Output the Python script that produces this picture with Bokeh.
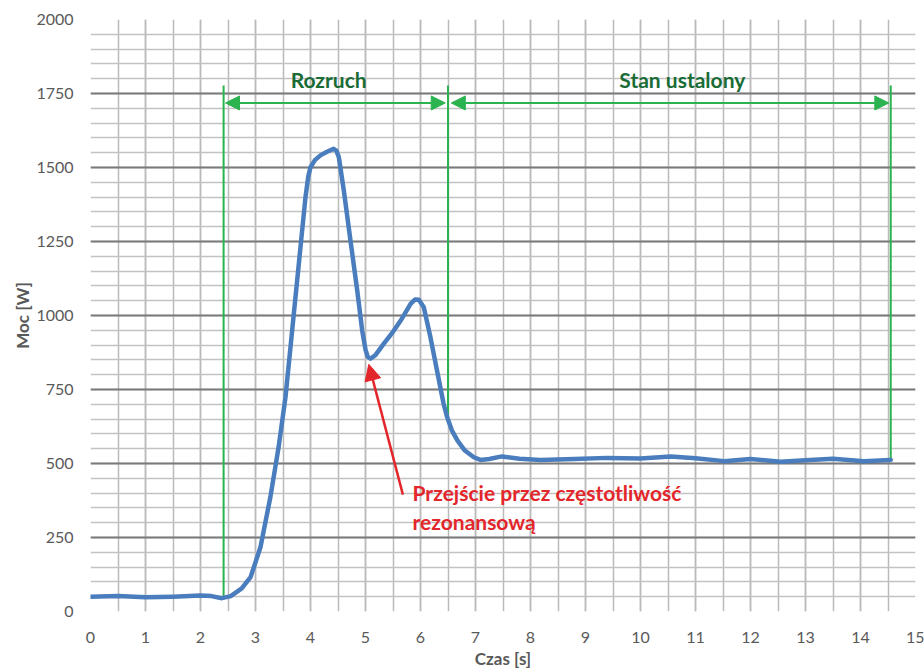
from bokeh.plotting import figure
from bokeh.models import SingleIntervalTicker, Arrow, NormalHead, Label, FixedTicker
from bokeh.embed import file_html
from bokeh.resources import INLINE

# --- data ---
time_s = [0, 0.5, 1, 1.5, 2, 2.2, 2.39, 2.55, 2.75, 2.91, 3.09, 3.27, 3.42, 3.545, 3.636,
          3.727, 3.818, 3.909, 3.96, 4.0, 4.08, 4.18, 4.3, 4.42, 4.47, 4.515, 4.606, 4.727,
          4.85, 4.94, 5.0, 5.04, 5.09, 5.18, 5.33, 5.5, 5.64, 5.82, 5.9, 5.97, 6.06, 6.18,
          6.30, 6.42, 6.485, 6.57, 6.67, 6.8, 6.97, 7.09, 7.25, 7.48, 7.8, 8.18, 8.8, 9.39,
          10.0, 10.55, 11.0, 11.52, 12.0, 12.55, 13.0, 13.5, 14.06, 14.55]
power_w = [50, 52, 48, 50, 54, 52, 45, 52, 78, 116, 217, 386, 555, 724, 893,
           1062, 1231, 1400, 1470, 1501, 1525, 1541, 1553, 1563, 1557, 1535, 1422, 1253,
           1084, 949, 885, 860, 854, 866, 904, 945, 983, 1039, 1054, 1053, 1028, 927,
           814, 702, 656, 612, 578, 545, 521, 512, 515, 524, 516, 512, 515, 519,
           517, 524, 518, 508, 515, 506, 511, 516, 508, 512]

x_ticks = list(range(0, 16))
x_minor = [i * 0.5 for i in range(31)]

phase_start = 2.42
phase_split = 6.5
phase_end = 14.55
marker_top = 1777
arrow_level = 1718
label_level = 1797

GREEN = "#2bb34f"
DKGREEN = "#1a6c36"
RED = "#e3262b"
FONT = "Lato"

p = figure(width=924, height=672, x_range=(0, 15), y_range=(0, 2000),
           output_backend="svg", toolbar_location=None,
           min_border_left=90, min_border_right=9, min_border_top=19, min_border_bottom=61)
p.outline_line_color = None
p.background_fill_color = "white"

# axes
p.xaxis.ticker = FixedTicker(ticks=x_ticks, minor_ticks=x_minor)
p.yaxis.ticker = SingleIntervalTicker(interval=250, num_minor_ticks=5)
for ax in (p.xaxis[0], p.yaxis[0]):
    ax.axis_line_color = None
    ax.major_tick_line_color = None
    ax.minor_tick_line_color = None
    ax.major_tick_out = 0
    ax.minor_tick_out = 0
    ax.major_tick_in = 0
    ax.minor_tick_in = 0
    ax.major_label_text_color = "#595959"
    ax.major_label_text_font = FONT
    ax.major_label_text_font_size = "16px"
    ax.axis_label_text_font = FONT
    ax.axis_label_text_font_style = "bold"
    ax.axis_label_text_font_size = "17px"
    ax.axis_label_text_color = "#595959"
p.xaxis.major_label_standoff = 20
p.yaxis.major_label_standoff = 17
p.xaxis.axis_label = "Czas [s]"
p.yaxis.axis_label = "Moc [W]"
p.xaxis.axis_label_standoff = 2
p.yaxis.axis_label_standoff = 0

# grids
p.xgrid.grid_line_color = "#bababa"
p.xgrid.grid_line_width = 1.5
p.xgrid.minor_grid_line_color = "#bababa"
p.xgrid.minor_grid_line_width = 1.5
p.ygrid.grid_line_color = "#7a7a7a"
p.ygrid.grid_line_width = 2
p.ygrid.minor_grid_line_color = "#c2c2c2"
p.ygrid.minor_grid_line_width = 1.5

# green phase markers (ending on the curve)
def curve_at(t):
    for i in range(len(time_s) - 1):
        if time_s[i] <= t <= time_s[i + 1]:
            f = (t - time_s[i]) / (time_s[i + 1] - time_s[i])
            return power_w[i] + f * (power_w[i + 1] - power_w[i])
    return power_w[-1]

mx = [phase_start, phase_split, phase_end]
p.segment(x0=mx, y0=[curve_at(t) for t in mx], x1=mx, y1=[marker_top] * 3,
          line_color=GREEN, line_width=2)

# curve
p.line(time_s, power_w, line_color="#4a7dbd", line_width=4.5,
       line_join="round", line_cap="round")

# double arrows
for a, b in [(phase_start + 0.035, phase_split - 0.05), (phase_split + 0.06, phase_end - 0.035)]:
    p.add_layout(Arrow(x_start=a, y_start=arrow_level, x_end=b, y_end=arrow_level,
                       line_color=GREEN, line_width=2,
                       start=NormalHead(size=14, fill_color=GREEN, line_color=GREEN),
                       end=NormalHead(size=14, fill_color=GREEN, line_color=GREEN)))

for x, txt in [(4.33, "Rozruch"), (10.76, "Stan ustalony")]:
    p.add_layout(Label(x=x, y=label_level, text=txt, text_align="center",
                       text_baseline="middle", text_font=FONT, text_font_style="bold",
                       text_font_size="21px", text_color=DKGREEN))

# red annotation
p.add_layout(Arrow(x_start=5.68, y_start=395, x_end=5.06, y_end=835,
                   line_color=RED, line_width=2.5,
                   end=NormalHead(size=16, fill_color=RED, line_color=RED)))
p.add_layout(Label(x=5.855, y=402, text="Przejście przez częstotliwość", text_align="left",
                   text_baseline="middle", text_font=FONT, text_font_style="bold",
                   text_font_size="21px", text_color=RED))
p.add_layout(Label(x=5.855, y=304, text="rezonansową", text_align="left",
                   text_baseline="middle", text_font=FONT, text_font_style="bold",
                   text_font_size="21px", text_color=RED))

open("out.html", "w").write(file_html(p, INLINE))
